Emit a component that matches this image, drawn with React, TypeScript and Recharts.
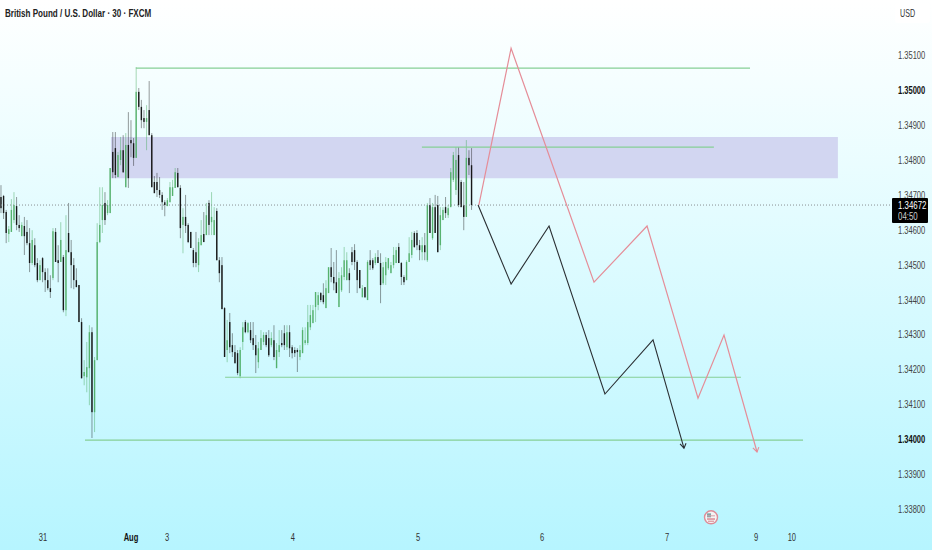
import { ComposedChart, Bar, Line, XAxis, YAxis, ReferenceArea, ReferenceLine, ReferenceDot } from 'recharts';

// prices are in points (1.34672 = 134672), x is the bar number
const opens = [
  134695,134698,134652,134589,134595,134629,134669,134615,134583,134612,
  134595,134563,134506,134557,134506,134457,134520,134480,134457,134434,
  134463,134595,134514,134509,134523,134371,134592,134537,134500,134457,
  134443,134337,134182,134179,134205,134308,134079,134228,134566,134629,
  134678,134649,134649,134824,134835,134752,134801,134829,134723,134844,
  134858,134849,134807,134996,134953,134921,134910,134944,134872,134738,
  134738,134715,134701,134680,134669,134680,134698,134721,134764,134721,
  134615,134638,134615,134595,134543,134537,134500,134557,134589,134586,
  134678,134623,134586,134655,134514,134500,134377,134257,134337,134271,
  134251,134248,134182,134280,134337,134308,134314,134291,134271,134222,
  134257,134280,134300,134291,134271,134285,134205,134251,134277,134305,
  134265,134308,134265,134257,134257,134237,134248,134277,134277,134322,
  134334,134380,134386,134420,134414,134377,134420,134494,134466,134451,
  134380,134428,134466,134457,134477,134537,134543,134509,134486,134408,
  134437,134400,134514,134514,134506,134523,134506,134448,134471,134491,
  134477,134500,134506,134552,134506,134466,134457,134509,134529,
  134592,134592,134557,134537,134557,134514,134672,134577,134666,134672,
  134557,134629,134666,134643,134666,134744,134715,134815,134738,134672,
  134638,134807,134786,
];
const highs = [
  134729,134701,134658,134612,134689,134709,134695,134643,134623,134638,
  134629,134606,134600,134577,134520,134514,134523,134491,134491,134471,
  134606,134606,134557,134623,134529,134643,134678,134572,134520,134491,
  134443,134348,134228,134280,134328,134322,134237,134620,134723,134723,
  134709,134686,134778,134881,134881,134824,134867,134872,134878,134938,
  134915,134864,135067,135007,134973,134944,134958,135027,134878,134755,
  134764,134752,134709,134686,134692,134738,134744,134778,134778,134729,
  134663,134701,134620,134595,134549,134595,134577,134629,134652,134678,
  134686,134709,134666,134663,134523,134523,134380,134343,134363,134305,
  134271,134257,134265,134337,134343,134337,134337,134337,134300,134280,
  134314,134308,134308,134314,134308,134328,134277,134314,134314,134328,
  134328,134328,134271,134265,134262,134271,134322,134322,134386,134386,
  134386,134423,134423,134423,134448,134457,134494,134549,134509,134543,
  134480,134494,134552,134537,134491,134552,134560,134514,134486,134443,
  134437,134514,134543,134520,134534,134543,134534,134509,134523,134520,
  134509,134552,134552,134563,134509,134471,134514,134580,134595,
  134597,134600,134572,134580,134592,134678,134692,134678,134701,134698,
  134666,134666,134695,134672,134778,134824,134838,134838,134744,134738,
  134858,134829,134835,
];
const lows = [
  134649,134632,134563,134566,134595,134620,134600,134595,134583,134529,
  134557,134480,134500,134494,134451,134457,134451,134423,134428,134406,
  134457,134509,134451,134509,134365,134354,134537,134434,134431,134437,
  134337,134176,134156,134136,134099,134005,134022,134228,134563,134592,
  134615,134643,134649,134749,134749,134752,134786,134764,134723,134721,
  134809,134784,134807,134944,134892,134892,134829,134872,134723,134706,
  134695,134692,134658,134640,134669,134680,134698,134721,134723,134577,
  134534,134592,134563,134549,134494,134494,134480,134557,134566,134586,
  134586,134586,134586,134514,134451,134374,134237,134222,134248,134237,
  134219,134185,134176,134257,134305,134305,134277,134257,134191,134205,
  134257,134271,134265,134237,134265,134228,134205,134237,134265,134257,
  134257,134237,134233,134237,134194,134228,134248,134271,134271,134314,
  134334,134337,134371,134394,134388,134377,134420,134451,134428,134420,
  134380,134423,134457,134457,134420,134500,134486,134420,134434,134408,
  134406,134400,134486,134486,134500,134506,134391,134443,134443,134486,
  134477,134491,134506,134506,134443,134443,134457,134509,134520,
  134549,134543,134514,134514,134514,134509,134592,134572,134592,134537,
  134543,134629,134635,134635,134666,134738,134701,134666,134666,134600,
  134638,134758,134658,
];
const closes = [
  134663,134649,134592,134603,134658,134672,134615,134606,134615,134583,
  134563,134506,134572,134500,134457,134500,134480,134457,134434,134423,
  134597,134509,134506,134572,134371,134543,134537,134500,134457,134437,
  134337,134176,134194,134208,134308,134079,134228,134566,134615,134672,
  134629,134672,134778,134766,134758,134815,134829,134766,134844,134749,
  134849,134807,134996,134953,134915,134910,134921,134872,134723,134706,
  134715,134701,134680,134672,134686,134723,134723,134766,134723,134606,
  134638,134612,134566,134549,134506,134506,134566,134586,134566,134643,
  134615,134638,134629,134514,134477,134374,134237,134285,134265,134251,
  134219,134191,134257,134322,134308,134334,134285,134271,134242,134262,
  134291,134300,134271,134242,134291,134237,134257,134271,134271,134271,
  134308,134262,134248,134248,134251,134257,134314,134285,134337,134357,
  134371,134423,134414,134400,134394,134434,134494,134466,134448,134420,
  134463,134471,134514,134514,134457,134509,134509,134457,134434,134434,
  134408,134509,134500,134491,134523,134506,134443,134494,134509,134520,
  134500,134529,134543,134506,134466,134451,134509,134534,134572,
  134552,134557,134543,134557,134537,134672,134592,134666,134592,134537,
  134643,134658,134649,134663,134766,134815,134801,134672,134666,134638,
  134807,134786,134672,
];

const priceTicks = [135100,135000,134900,134800,134700,134600,134500,134400,134300,134200,134100,134000,133900,133800];
const dayTicks = [16.15,50,63.85,112.3,160.4,208.1,256.2,290.4,304.2];
const dayLabels = ['31','Aug','3','4','5','6','7','9','10'];

const lastPrice = 134672;
const zoneTop = 134867;
const zoneBottom = 134749;
const zoneFrom = 42.3;
const zoneTo = 321.9;

const redBars = [183.8,196.2,228.1,248.5,268.1,278.1,290.8];
const redPrices = [134672,135121,134451,134612,134119,134300,133965];
const redHeadBars = [289.2,290.8,291.5];
const redHeadPrices = [133977,133965,133979];
const blackBars = [183.5,196.2,210.8,232.3,250.8,262.7];
const blackPrices = [134672,134446,134612,134131,134286,133976];
const blackHeadBars = [261.2,262.7,263.5];
const blackHeadPrices = [133988,133976,133990];

const levelFrom = [51.9,161.9,86.2,32.3];
const levelTo = [288.1,274.2,284.6,308.5];
const levelPrice = [135064,134838,134179,133999];

const candles = opens.map((open, i) => ({ i, open, high: highs[i], low: lows[i], close: closes[i] }));
const toPath = (bars: number[], prices: number[]) => bars.map((i, k) => ({ i, p: prices[k] }));

const UP = '#43a85a';
const DOWN = '#111111';
const LEVEL = '#86cf96';
const RED = '#e58d98';

function Candle(props: any) {
  const { x, y, width, height, payload } = props;
  const cx = x + width / 2;
  const isUp = payload.close >= payload.open;
  const color = isUp ? UP : DOWN;
  const range = payload.high - payload.low || 1;
  const perPoint = height / range;
  const bodyTop = y + (payload.high - Math.max(payload.open, payload.close)) * perPoint;
  const bodyH = Math.max(Math.abs(payload.open - payload.close) * perPoint, 1);
  return (
    <g>
      <rect x={cx - 0.5} y={y} width={1} height={height} fill={color} fillOpacity={isUp ? 0.45 : 0.42} />
      <rect x={cx - 0.7} y={bodyTop} width={1.4} height={bodyH} fill={color} fillOpacity={isUp ? 0.8 : 0.95} />
    </g>
  );
}

function PriceTick({ x, y, payload }: any) {
  const strong = payload.value === 135000 || payload.value === 134000;
  return (
    <text transform={`translate(${x - 3} ${y + 3.5}) scale(0.72 1)`} fontFamily="Liberation Sans" fontSize={10.5}
      fill={strong ? '#111' : '#444'} fontWeight={strong ? 700 : 400}>
      {(payload.value / 100000).toFixed(5)}
    </text>
  );
}

function DayTick({ x, y, payload }: any) {
  const label = dayLabels[dayTicks.indexOf(payload.value)];
  const strong = label === 'Aug';
  return (
    <text transform={`translate(${x} ${y + 8}) scale(0.72 1)`} textAnchor="middle" fontFamily="Liberation Sans" fontSize={10.5}
      fill={strong ? '#111' : '#333'} fontWeight={strong ? 700 : 400}>
      {label}
    </text>
  );
}

function EarningsFlag({ cx, cy }: any) {
  return (
    <g>
      <circle cx={cx} cy={cy} r={6.5} fill="#f4f4f4" stroke="#dd8d98" strokeWidth={1.4} />
      <rect x={cx - 4} y={cy - 4} width={4} height={4} fill="#7fa3a8" />
      <rect x={cx - 4} y={cy + 1} width={8} height={1.4} fill="#d9848f" />
      <rect x={cx - 4} y={cy - 2} width={8} height={1} fill="#d9a0a8" />
      <rect x={cx - 3} y={cy + 3.4} width={6} height={1} fill="#d9848f" />
    </g>
  );
}

export default function App() {
  return (
    <div style={{ position: 'absolute', left: 0, top: 0, width: 932, height: 550, overflow: 'hidden', background: 'linear-gradient(#ffffff 0%, #eafdff 30%, #b6f5ff 100%)' }}>
      <ComposedChart width={932} height={550} data={candles} margin={{ top: 0, right: 0, left: 0, bottom: 0 }}>
        <XAxis dataKey="i" type="number" domain={[-0.38, 343.1]} ticks={dayTicks} interval={0} height={25} tick={<DayTick />} axisLine={false} tickLine={false} allowDataOverflow />
        <YAxis orientation="right" width={39} domain={[133756, 135259]} ticks={priceTicks} interval={0} tick={<PriceTick />} axisLine={false} tickLine={false} allowDataOverflow />
        <ReferenceArea x1={zoneFrom} x2={zoneTo} y1={zoneBottom} y2={zoneTop} fill="#d2d6f1" fillOpacity={1} stroke="none" />
        <ReferenceLine y={lastPrice} stroke="#8a8f92" strokeDasharray="1 2" />
        <Bar dataKey={(d: any) => [d.low, d.high]} barSize={3} shape={<Candle />} isAnimationActive={false} />
        {levelPrice.map((p, k) => (
          <Line key={k} data={toPath([levelFrom[k], levelTo[k]], [p, p])} dataKey="p" stroke={LEVEL} strokeWidth={1.2} dot={false} activeDot={false} isAnimationActive={false} />
        ))}
        <Line data={toPath(redBars, redPrices)} dataKey="p" stroke={RED} strokeWidth={1.2} dot={false} activeDot={false} isAnimationActive={false} />
        <Line data={toPath(redHeadBars, redHeadPrices)} dataKey="p" stroke={RED} strokeWidth={1.1} dot={false} activeDot={false} isAnimationActive={false} />
        <Line data={toPath(blackBars, blackPrices)} dataKey="p" stroke="#2b2f33" strokeWidth={1.1} dot={false} activeDot={false} isAnimationActive={false} />
        <Line data={toPath(blackHeadBars, blackHeadPrices)} dataKey="p" stroke="#2b2f33" strokeWidth={1.1} dot={false} activeDot={false} isAnimationActive={false} />
        <ReferenceDot x={273.1} y={133778} r={6.5} shape={<EarningsFlag />} />
      </ComposedChart>
      <div style={{ position: 'absolute', left: 5, top: 7, fontFamily: 'Liberation Sans', fontSize: 11.5, fontWeight: 700, color: '#222', whiteSpace: 'nowrap', transform: 'scaleX(0.7)', transformOrigin: 'left' }}>
        British Pound / U.S. Dollar · 30 · FXCM
      </div>
      <div style={{ position: 'absolute', left: 895, top: 3, width: 35, height: 20, background: '#ffffff', borderRadius: 3 }}>
        <div style={{ position: 'absolute', left: 5, top: 4, fontFamily: 'Liberation Sans', fontSize: 10.5, color: '#333', transform: 'scaleX(0.68)', transformOrigin: 'left' }}>USD</div>
      </div>
      <div style={{ position: 'absolute', left: 892, top: 198, width: 36, height: 25, paddingTop: 2, boxSizing: 'border-box', background: '#000', borderRadius: 1, color: '#fff', fontFamily: 'Liberation Sans', fontSize: 10.5, lineHeight: '11px' }}>
        <div style={{ marginLeft: 6, transform: 'scaleX(0.75)', transformOrigin: 'left', whiteSpace: 'nowrap' }}>1.34672</div>
        <div style={{ marginLeft: 6, transform: 'scaleX(0.75)', transformOrigin: 'left', color: '#ccc', whiteSpace: 'nowrap' }}>04:50</div>
      </div>
    </div>
  );
}
